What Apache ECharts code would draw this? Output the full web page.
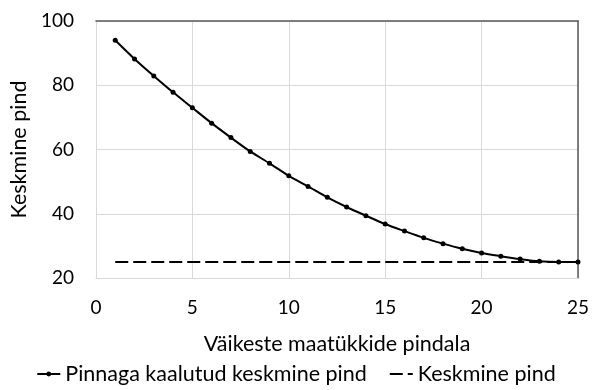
<!DOCTYPE html>
<html>
<head>
<meta charset="utf-8">
<script src="https://cdn.jsdelivr.net/npm/echarts@6/dist/echarts.min.js"></script>
<style>html,body{margin:0;padding:0;background:#fff}#c{width:592px;height:390px}</style>
</head>
<body>
<div id="c"></div>
<script>
const xValues = [1,2,3,4,5,6,7,8,9,10,11,12,13,14,15,16,17,18,19,20,21,22,23,24,25];
const weighted = [94.0,88.2,82.9,77.8,73.0,68.2,63.7,59.4,55.7,51.8,48.5,45.1,42.1,39.4,36.8,34.6,32.5,30.7,29.1,27.8,26.8,25.9,25.2,25.0,25.0];
const meanX = [1,25];
const meanY = [25,25];
const seriesNames = ['Pinnaga kaalutud keskmine pind','Keskmine pind'];
const xTitle = 'Väikeste maatükkide pindala';
const yTitle = 'Keskmine pind';

const FONT = 'Lato';
const chart = echarts.init(document.getElementById('c'), null, {renderer:'canvas'});
chart.setOption({
  animation:false,
  textStyle:{fontFamily:FONT},
  grid:{left:89,right:12,top:21,bottom:112,containLabel:false},
  legend:{
    bottom:0, left:'center',
    itemWidth:23, itemHeight:6, itemGap:22,
    textStyle:{fontFamily:FONT,fontSize:21.5,color:'#000'},
    data:[
      {name:seriesNames[0]},
      {name:seriesNames[1],itemStyle:{color:'rgba(0,0,0,0)',borderWidth:0}}
    ]
  },
  xAxis:[{
    type:'value',min:0,max:25,interval:5,
    name:xTitle,nameLocation:'middle',nameGap:55,
    nameTextStyle:{fontFamily:FONT,fontSize:21.5,color:'#000'},
    axisLine:{show:true,lineStyle:{color:'#d9d9d9',width:1}},
    axisTick:{show:false},
    axisLabel:{fontFamily:FONT,fontSize:19,color:'#000',margin:20},
    splitLine:{show:true,lineStyle:{color:'#d9d9d9',width:1}}
  },{
    type:'value',min:0,max:25,position:'top',
    axisLine:{show:true,onZero:false,lineStyle:{color:'#595959',width:1.5}},
    axisTick:{show:false},axisLabel:{show:false},splitLine:{show:false}
  }],
  yAxis:[{
    type:'value',min:20,max:100,interval:20,
    name:yTitle,nameLocation:'middle',nameGap:63,
    nameTextStyle:{fontFamily:FONT,fontSize:21.5,color:'#000'},
    axisLine:{show:true,lineStyle:{color:'#d9d9d9',width:1}},
    axisTick:{show:false},
    axisLabel:{fontFamily:FONT,fontSize:19,color:'#000',margin:22},
    splitLine:{show:true,lineStyle:{color:'#d9d9d9',width:1}}
  },{
    type:'value',min:20,max:100,position:'right',
    axisLine:{show:true,onZero:false,lineStyle:{color:'#595959',width:1.5}},
    axisTick:{show:false},axisLabel:{show:false},splitLine:{show:false}
  }],
  series:[{
    name:seriesNames[0],type:'line',
    data:xValues.map((x,i)=>[x,weighted[i]]),
    smooth:0.3,
    symbol:'circle',symbolSize:5,
    lineStyle:{color:'#000',width:2},
    itemStyle:{color:'#000'},
    z:3
  },{
    name:seriesNames[1],type:'line',
    data:meanX.map((x,i)=>[x,meanY[i]]),
    symbol:'none',
    lineStyle:{color:'#000',width:2,type:[13,5]},
    itemStyle:{color:'#000'},
    z:2
  }]
});
</script>
</body>
</html>
